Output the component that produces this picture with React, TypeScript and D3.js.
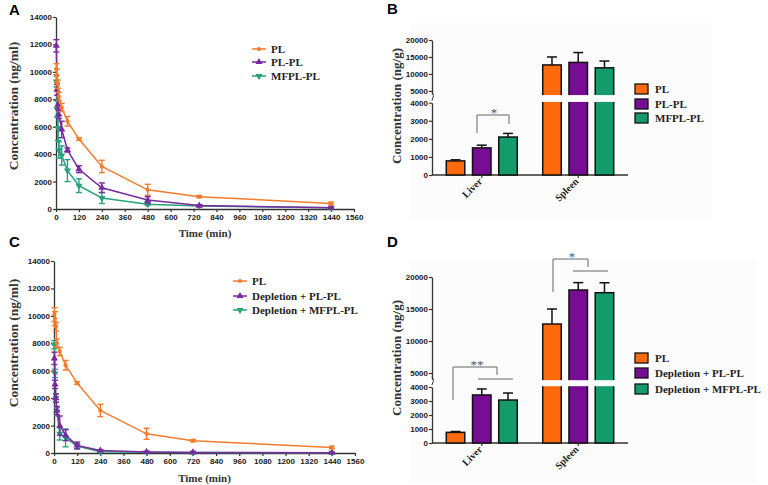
import { useEffect, useRef } from 'react';
import * as d3 from 'd3';

// ---- data ----
const TIMES_A = [2, 5, 10, 15, 30, 60, 120, 240, 480, 750, 1440];
const TIMES_C = [2, 5, 10, 15, 30, 60, 120, 240, 480, 720, 1440];
const TIME_TICKS = [0, 120, 240, 360, 480, 600, 720, 840, 960, 1080, 1200, 1320, 1440, 1560];
const CONC_TICKS = [0, 2000, 4000, 6000, 8000, 10000, 12000, 14000];

// panel A
const PL_MEAN = [10200, 9700, 9100, 8200, 7400, 6400, 5100, 3100, 1400, 900, 400];
const PL_ERR = [400, 500, 300, 300, 300, 350, 100, 450, 400, 80, 100];
const PLPL_MEAN = [11900, 8700, 7600, 6900, 5800, 4300, 2900, 1550, 650, 250, 100];
const PLPL_ERR = [450, 400, 300, 300, 600, 150, 250, 350, 250, 60, 40];
const MFPL_MEAN = [9300, 7300, 5900, 4300, 3900, 2800, 1700, 800, 350, 220, 90];
const MFPL_ERR = [400, 600, 900, 600, 700, 800, 500, 400, 100, 40, 30];

// panel C
const PLC_MEAN = [10100, 9800, 9200, 8000, 7400, 6400, 5100, 3100, 1400, 900, 400];
const PLC_ERR = [500, 500, 300, 300, 300, 350, 100, 450, 400, 80, 100];
const DEP_PLPL_MEAN = [6900, 5000, 4000, 3100, 2000, 1300, 550, 180, 80, 40, 20];
const DEP_PLPL_ERR = [450, 300, 300, 300, 700, 400, 250, 50, 30, 20, 10];
const DEP_MFPL_MEAN = [7900, 5800, 4000, 3000, 1400, 1100, 500, 100, 50, 30, 20];
const DEP_MFPL_ERR = [300, 300, 300, 300, 450, 650, 200, 40, 20, 10, 10];

// panels B and D
const ORGANS = ['Liver', 'Spleen'];
const B_SERIES = ['PL', 'PL-PL', 'MFPL-PL'];
const B_MEAN = [[780, 1500, 2100], [12650, 13400, 11800]];
const B_ERR = [[60, 150, 200], [2350, 2900, 2000]];
const D_SERIES = ['PL', 'Depletion + PL-PL', 'Depletion + MFPL-PL'];
const D_MEAN = [[760, 3430, 3070], [12650, 17970, 17550]];
const D_ERR = [[60, 430, 500], [2350, 1150, 1550]];
const LOW_TICKS = [0, 1000, 2000, 3000, 4000];
const HIGH_TICKS = [5000, 10000, 15000, 20000];

const SERIF = '"Liberation Serif", "Times New Roman", serif';
const SANS = '"Liberation Sans", Arial, sans-serif';
const LINE_COLORS = ['#f47c2c', '#7a2aa0', '#26a37b'];
const BAR_COLORS = ['#ff6a0d', '#780c94', '#139b6c'];
const AXIS = '#333';
const fmt = d3.format('d');

function styleAxis(g) {
  g.select('.domain').attr('stroke', AXIS).attr('stroke-width', 1.3);
  g.selectAll('.tick line').attr('stroke', AXIS).attr('stroke-width', 1.2);
  g.selectAll('.tick text')
    .attr('fill', '#1a1a1a')
    .attr('font-family', SANS)
    .attr('font-weight', 'bold')
    .attr('font-size', 8);
}

function markerPath(kind) {
  if (kind === 'circle') return d3.symbol().type(d3.symbolCircle).size(14)();
  return d3.symbol().type(d3.symbolTriangle).size(22)();
}

function linePanel(svg, cfg) {
  const x = d3.scaleLinear().domain([0, 1560]).range([cfg.x0, cfg.x1]);
  const y = d3.scaleLinear().domain([0, 14000]).range([cfg.y1, cfg.y0]);
  const g = svg.append('g');

  g.append('g')
    .attr('transform', `translate(0,${cfg.y1})`)
    .call(d3.axisBottom(x).tickValues(TIME_TICKS).tickFormat(fmt).tickSize(3).tickSizeOuter(0).tickPadding(2))
    .call(styleAxis);
  g.append('g')
    .attr('transform', `translate(${cfg.x0},0)`)
    .call(d3.axisLeft(y).tickValues(CONC_TICKS).tickFormat(fmt).tickSize(3).tickSizeOuter(0).tickPadding(1))
    .call(styleAxis);

  const line = d3.line().x(d => x(d.t)).y(d => y(d.m));

  // draw last series first so PL ends on top
  [2, 1, 0].forEach(i => {
    const s = cfg.series[i];
    const pts = s.times.map((t, k) => ({ t, m: s.mean[k], e: s.err[k] }));
    const sg = g.append('g');
    sg.append('path').datum(pts)
      .attr('fill', 'none').attr('stroke', s.color).attr('stroke-width', 1.5)
      .attr('d', line);
    pts.forEach(p => {
      const cx = x(p.t);
      const yt = y(p.m + p.e);
      const yb = y(Math.max(0, p.m - p.e));
      sg.append('line').attr('x1', cx).attr('x2', cx).attr('y1', yt).attr('y2', yb)
        .attr('stroke', s.color).attr('stroke-width', 1.4);
      [yt, yb].forEach(yy => sg.append('line')
        .attr('x1', cx - 3).attr('x2', cx + 3).attr('y1', yy).attr('y2', yy)
        .attr('stroke', s.color).attr('stroke-width', 1.4));
    });
    sg.selectAll('path.m').data(pts).enter().append('path')
      .attr('class', 'm')
      .attr('d', markerPath(s.marker))
      .attr('transform', d => `translate(${x(d.t)},${y(d.m)})${s.marker === 'down' ? ' rotate(180)' : ''}`)
      .attr('fill', s.color);
  });

  // legend
  cfg.series.forEach((s, i) => {
    const ly = cfg.legend.y[i];
    const lg = g.append('g');
    lg.append('line').attr('x1', cfg.legend.x).attr('x2', cfg.legend.x + 14)
      .attr('y1', ly).attr('y2', ly).attr('stroke', s.color).attr('stroke-width', 1.5);
    lg.append('path').attr('d', markerPath(s.marker))
      .attr('transform', `translate(${cfg.legend.x + 7},${ly})${s.marker === 'down' ? ' rotate(180)' : ''}`)
      .attr('fill', s.color);
    lg.append('text').attr('x', cfg.legend.x + 19).attr('y', ly).attr('dy', '0.35em')
      .attr('font-family', SERIF).attr('font-weight', 'bold').attr('font-size', 11)
      .attr('fill', '#222').text(s.name);
  });

  g.append('text')
    .attr('transform', `translate(18,${cfg.yLabelY}) rotate(-90)`)
    .attr('text-anchor', 'middle')
    .attr('font-family', SERIF).attr('font-weight', 'bold').attr('font-size', 13.5)
    .attr('fill', '#333').text('Concentration (ng/ml)');
  g.append('text')
    .attr('x', (cfg.x0 + cfg.x1) / 2).attr('y', cfg.timeY)
    .attr('text-anchor', 'middle')
    .attr('font-family', SERIF).attr('font-weight', 'bold').attr('font-size', 11)
    .attr('fill', '#333').text('Time (min)');
}

function barPanel(svg, cfg) {
  const g = svg.append('g');
  g.append('rect').attr('x', cfg.bg[0]).attr('y', cfg.bg[1])
    .attr('width', cfg.bg[2]).attr('height', cfg.bg[3]).attr('fill', '#fcfcfc');

  const lower = d3.scaleLinear().domain([0, 4000]).range([cfg.yBottom, cfg.yLowTop]);
  const upper = d3.scaleLinear().domain([4000, 20000]).range([cfg.yHighBottom, cfg.yTop]);
  const yv = v => (v <= 4000 ? lower(v) : upper(v));

  const outer = d3.scaleBand().domain(ORGANS).range([432, 628]).paddingInner(0.264).paddingOuter(0.148);
  const inner = d3.scaleBand().domain(cfg.series).range([0, outer.bandwidth()]).paddingInner(0.295);

  g.append('g').attr('transform', 'translate(432,0)')
    .call(d3.axisLeft(lower).tickValues(LOW_TICKS).tickFormat(fmt).tickSize(3).tickSizeOuter(0).tickPadding(1))
    .call(styleAxis);
  g.append('g').attr('transform', 'translate(432,0)')
    .call(d3.axisLeft(upper).tickValues(HIGH_TICKS).tickFormat(fmt).tickSize(3).tickSizeOuter(0).tickPadding(1))
    .call(styleAxis);
  // break mark on the axis
  const mid = (cfg.yHighBottom + cfg.yLowTop) / 2;
  g.append('rect').attr('x', 429).attr('y', cfg.yHighBottom + 0.5)
    .attr('width', 6).attr('height', cfg.yLowTop - cfg.yHighBottom - 1).attr('fill', '#fff');
  g.append('path')
    .attr('d', `M432,${cfg.yHighBottom - 3} q3,${mid - cfg.yHighBottom} 0,${(mid - cfg.yHighBottom) * 2 + 1}`)
    .attr('fill', 'none').attr('stroke', AXIS).attr('stroke-width', 1);

  g.append('line').attr('x1', 432).attr('x2', 628)
    .attr('y1', cfg.yBottom).attr('y2', cfg.yBottom)
    .attr('stroke', AXIS).attr('stroke-width', 1.3);

  ORGANS.forEach((organ, oi) => {
    const gc = outer(organ) + outer.bandwidth() / 2;
    cfg.series.forEach((s, si) => {
      const bx = outer(organ) + inner(s);
      const bw = inner.bandwidth();
      const v = cfg.mean[oi][si];
      const e = cfg.err[oi][si];
      const cx = bx + bw / 2;
      g.append('line').attr('x1', cx).attr('x2', cx).attr('y1', yv(v)).attr('y2', yv(v + e))
        .attr('stroke', '#111').attr('stroke-width', 1.5);
      g.append('line').attr('x1', cx - 5).attr('x2', cx + 5).attr('y1', yv(v + e)).attr('y2', yv(v + e))
        .attr('stroke', '#111').attr('stroke-width', 1.5);
      g.append('rect').attr('x', bx).attr('y', yv(v))
        .attr('width', bw).attr('height', cfg.yBottom - yv(v))
        .attr('fill', BAR_COLORS[si]).attr('stroke', '#111').attr('stroke-width', 1.5);
      if (v > 4000) {
        g.append('rect').attr('x', bx - 2).attr('y', cfg.yHighBottom + 0.8)
          .attr('width', bw + 4).attr('height', cfg.yLowTop - cfg.yHighBottom - 1.6)
          .attr('fill', '#fff');
      }
    });
    g.append('line').attr('x1', gc).attr('x2', gc)
      .attr('y1', cfg.yBottom).attr('y2', cfg.yBottom + 3)
      .attr('stroke', AXIS).attr('stroke-width', 1.2);
    g.append('text')
      .attr('transform', `translate(${gc + 1},${cfg.yBottom + 7}) rotate(-45)`)
      .attr('text-anchor', 'end')
      .attr('font-family', SERIF).attr('font-weight', 'bold').attr('font-size', 10)
      .attr('fill', '#222').text(organ);
  });

  // significance brackets
  cfg.brackets.forEach(b => {
    g.append('path').attr('d', b.path).attr('fill', 'none').attr('stroke', '#666').attr('stroke-width', 1);
    g.append('text').attr('x', b.sx).attr('y', b.sy).attr('text-anchor', 'middle')
      .attr('font-family', SERIF).attr('font-size', 13).attr('fill', '#555').text(b.label);
  });

  cfg.series.forEach((s, i) => {
    const ly = cfg.legendY[i];
    g.append('rect').attr('x', 635).attr('y', ly - 5).attr('width', 13).attr('height', 10)
      .attr('fill', BAR_COLORS[i]).attr('stroke', '#111').attr('stroke-width', 1.3);
    g.append('text').attr('x', 655).attr('y', ly).attr('dy', '0.35em')
      .attr('font-family', SERIF).attr('font-weight', 'bold').attr('font-size', 11)
      .attr('fill', '#222').text(s);
  });

  g.append('text')
    .attr('transform', `translate(401,${cfg.yLabelY}) rotate(-90)`)
    .attr('text-anchor', 'middle')
    .attr('font-family', SERIF).attr('font-weight', 'bold').attr('font-size', 13)
    .attr('fill', '#333').text('Concentration (ng/g)');
}

export default function App() {
  const svgRef = useRef(null);

  useEffect(() => {
    const svg = d3.select(svgRef.current);
    svg.selectAll('*').remove();

    linePanel(svg, {
      x0: 56, x1: 354, y0: 17, y1: 209, yLabelY: 106, timeY: 237,
      legend: { x: 252, y: [49, 62, 76] },
      series: [
        { name: 'PL', color: LINE_COLORS[0], marker: 'circle', times: TIMES_A, mean: PL_MEAN, err: PL_ERR },
        { name: 'PL-PL', color: LINE_COLORS[1], marker: 'up', times: TIMES_A, mean: PLPL_MEAN, err: PLPL_ERR },
        { name: 'MFPL-PL', color: LINE_COLORS[2], marker: 'down', times: TIMES_A, mean: MFPL_MEAN, err: MFPL_ERR },
      ],
    });
    linePanel(svg, {
      x0: 54, x1: 355, y0: 261, y1: 453, yLabelY: 343, timeY: 482,
      legend: { x: 233, y: [281, 296, 310] },
      series: [
        { name: 'PL', color: LINE_COLORS[0], marker: 'circle', times: TIMES_C, mean: PLC_MEAN, err: PLC_ERR },
        { name: 'Depletion + PL-PL', color: LINE_COLORS[1], marker: 'up', times: TIMES_C, mean: DEP_PLPL_MEAN, err: DEP_PLPL_ERR },
        { name: 'Depletion + MFPL-PL', color: LINE_COLORS[2], marker: 'down', times: TIMES_C, mean: DEP_MFPL_MEAN, err: DEP_MFPL_ERR },
      ],
    });

    barPanel(svg, {
      bg: [410, 23, 303, 197],
      yTop: 40, yHighBottom: 94.3, yLowTop: 102.7, yBottom: 175, yLabelY: 106,
      series: B_SERIES, mean: B_MEAN, err: B_ERR, legendY: [89, 104, 118],
      brackets: [
        { path: 'M477,133 V115 H509 V124', sx: 494, sy: 117, label: '*' },
      ],
    });
    barPanel(svg, {
      bg: [410, 260, 347, 222],
      yTop: 277, yHighBottom: 379.4, yLowTop: 387, yBottom: 443, yLabelY: 358,
      series: D_SERIES, mean: D_MEAN, err: D_ERR, legendY: [358, 373, 389],
      brackets: [
        { path: 'M453,400 V367 H497 V375 M478,379 H513', sx: 477, sy: 369, label: '**' },
        { path: 'M553,292 V259 H588 V267 M573,271 H608', sx: 572, sy: 261, label: '*' },
      ],
    });

    // panel letters
    [['A', 9, 15], ['B', 387, 14], ['C', 9, 247], ['D', 387, 247]].forEach(([t, px, py]) => {
      svg.append('text').attr('x', px).attr('y', py)
        .attr('font-family', SANS).attr('font-weight', 'bold').attr('font-size', 15)
        .attr('fill', '#000').text(t);
    });
  }, []);

  return (
    <svg ref={svgRef} width={768} height={485}
      style={{ position: 'absolute', left: 0, top: 0, background: '#fff' }} />
  );
}
